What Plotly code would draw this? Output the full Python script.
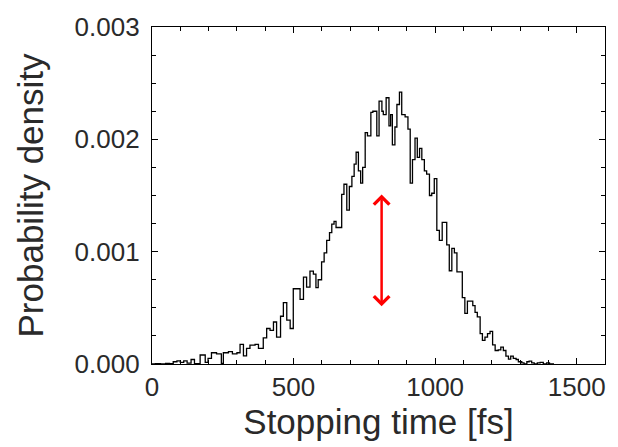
import plotly.graph_objects as go

# Left edge of each histogram step [fs] and its probability density (in units of 1e-3)
bin_left_fs = [0, 12, 30, 48, 62, 75, 88, 100, 112, 124, 138, 150, 170, 188, 198, 210, 228, 245, 252, 270,
               284, 300, 311, 323, 334, 346, 364, 376, 393, 405, 417, 429, 440, 454, 464, 476, 488, 499, 523, 535,
               546, 558, 570, 579, 587, 599, 608, 617, 627, 635, 643, 650, 670, 678, 688, 697, 706, 714, 721, 729,
               737, 744, 753, 761, 773, 780, 794, 802, 812, 817, 827, 837, 843, 849, 858, 865, 874, 882, 894, 904,
               912, 920, 929, 937, 945, 953, 962, 970, 980, 988, 997, 1006, 1015, 1025, 1041, 1050, 1059, 1068, 1077, 1096,
               1105, 1114, 1133, 1141, 1149, 1159, 1167, 1176, 1185, 1194, 1203, 1212, 1223, 1232, 1241, 1250, 1259, 1267, 1276, 1286,
               1294, 1306, 1314, 1324, 1332, 1341, 1350, 1361, 1371, 1382, 1394, 1404]
density_e3 = [0.0, 0.004, 0.0, 0.006, 0.003, 0.02, 0.027, 0.015, 0.027, 0.008, 0.04, 0.004, 0.08, 0.015, 0.05, 0.10, 0.09, 0.005, 0.10, 0.11,
              0.09, 0.10, 0.174, 0.073, 0.139, 0.168, 0.174, 0.139, 0.233, 0.316, 0.30, 0.374, 0.24, 0.425, 0.546, 0.39, 0.316, 0.67, 0.575, 0.773,
              0.684, 0.826, 0.80, 0.68, 0.75, 0.91, 0.99, 1.10, 1.17, 1.245, 1.27, 1.215, 1.51, 1.60, 1.37, 1.58, 1.67, 1.78, 1.885, 1.72,
              1.61, 1.75, 2.06, 2.03, 2.24, 2.25, 2.03, 2.34, 2.25, 2.22, 2.37, 2.12, 2.22, 1.95, 2.11, 2.31, 2.42, 2.22, 2.20, 2.09,
              1.61, 1.82, 2.01, 1.84, 1.92, 1.82, 1.72, 1.69, 1.50, 1.52, 1.65, 1.19, 1.10, 1.26, 1.06, 0.83, 1.03, 0.99, 0.82, 0.59,
              0.45, 0.56, 0.52, 0.46, 0.42, 0.27, 0.21, 0.24, 0.27, 0.29, 0.17, 0.12, 0.125, 0.15, 0.12, 0.07, 0.044, 0.07, 0.05, 0.04,
              0.02, 0.01, 0.0, 0.02, 0.025, 0.01, 0.0, 0.01, 0.015, 0.0, 0.01, 0.0]
last_edge_fs = 1420

x_ticks = [0, 500, 1000, 1500]
y_ticks = [0.000, 0.001, 0.002, 0.003]
y_tick_labels = ["0.000", "0.001", "0.002", "0.003"]

arrow_x_fs = 811
arrow_y_low = 0.00050
arrow_y_high = 0.00151

xs = bin_left_fs + [last_edge_fs]
ys = [v * 1e-3 for v in density_e3]
ys = ys + [ys[-1]]

fig = go.Figure()
fig.add_trace(go.Scatter(x=xs, y=ys, mode="lines", line=dict(color="black", width=1.3, shape="hv"),
                         showlegend=False, hoverinfo="skip"))

fig.add_annotation(x=arrow_x_fs, y=arrow_y_high, ax=arrow_x_fs, ay=arrow_y_low,
                   xref="x", yref="y", axref="x", ayref="y", text="", showarrow=True,
                   arrowside="end+start", arrowhead=4, startarrowhead=4,
                   arrowsize=1.2, startarrowsize=1.2, arrowwidth=2.5, arrowcolor="#ff0000")

tick_font = dict(family="Liberation Sans, Arial, sans-serif", size=26, color="#2a2a2a")
title_font = dict(family="Liberation Sans, Arial, sans-serif", size=35, color="#2a2a2a")

fig.update_layout(
    width=618, height=447,
    margin=dict(l=152, r=13, t=25, b=83),
    paper_bgcolor="white", plot_bgcolor="white",
    xaxis=dict(range=[0, 1600], tickvals=x_ticks, ticks="inside", ticklen=6, tickwidth=1.2,
               tickcolor="black", showline=True, linecolor="black", linewidth=1.3, mirror="ticks",
               showgrid=False, zeroline=False, tickfont=tick_font,
               minor=dict(ticks="inside", dtick=100, ticklen=4, tickcolor="black", tickwidth=1, showgrid=False),
               title=dict(text="Stopping time [fs]", font=title_font, standoff=6)),
    yaxis=dict(range=[0, 0.003], tickvals=y_ticks, ticktext=y_tick_labels, ticks="inside", ticklen=6,
               tickwidth=1.2, tickcolor="black", showline=True, linecolor="black", linewidth=1.3,
               mirror="ticks", showgrid=False, zeroline=False, tickfont=tick_font, ticklabelstandoff=6,
               minor=dict(ticks="inside", dtick=0.00025, ticklen=4, tickcolor="black", tickwidth=1, showgrid=False),
               title=dict(text="Probability density", font=title_font, standoff=20)),
)

fig.write_html("out.html")
